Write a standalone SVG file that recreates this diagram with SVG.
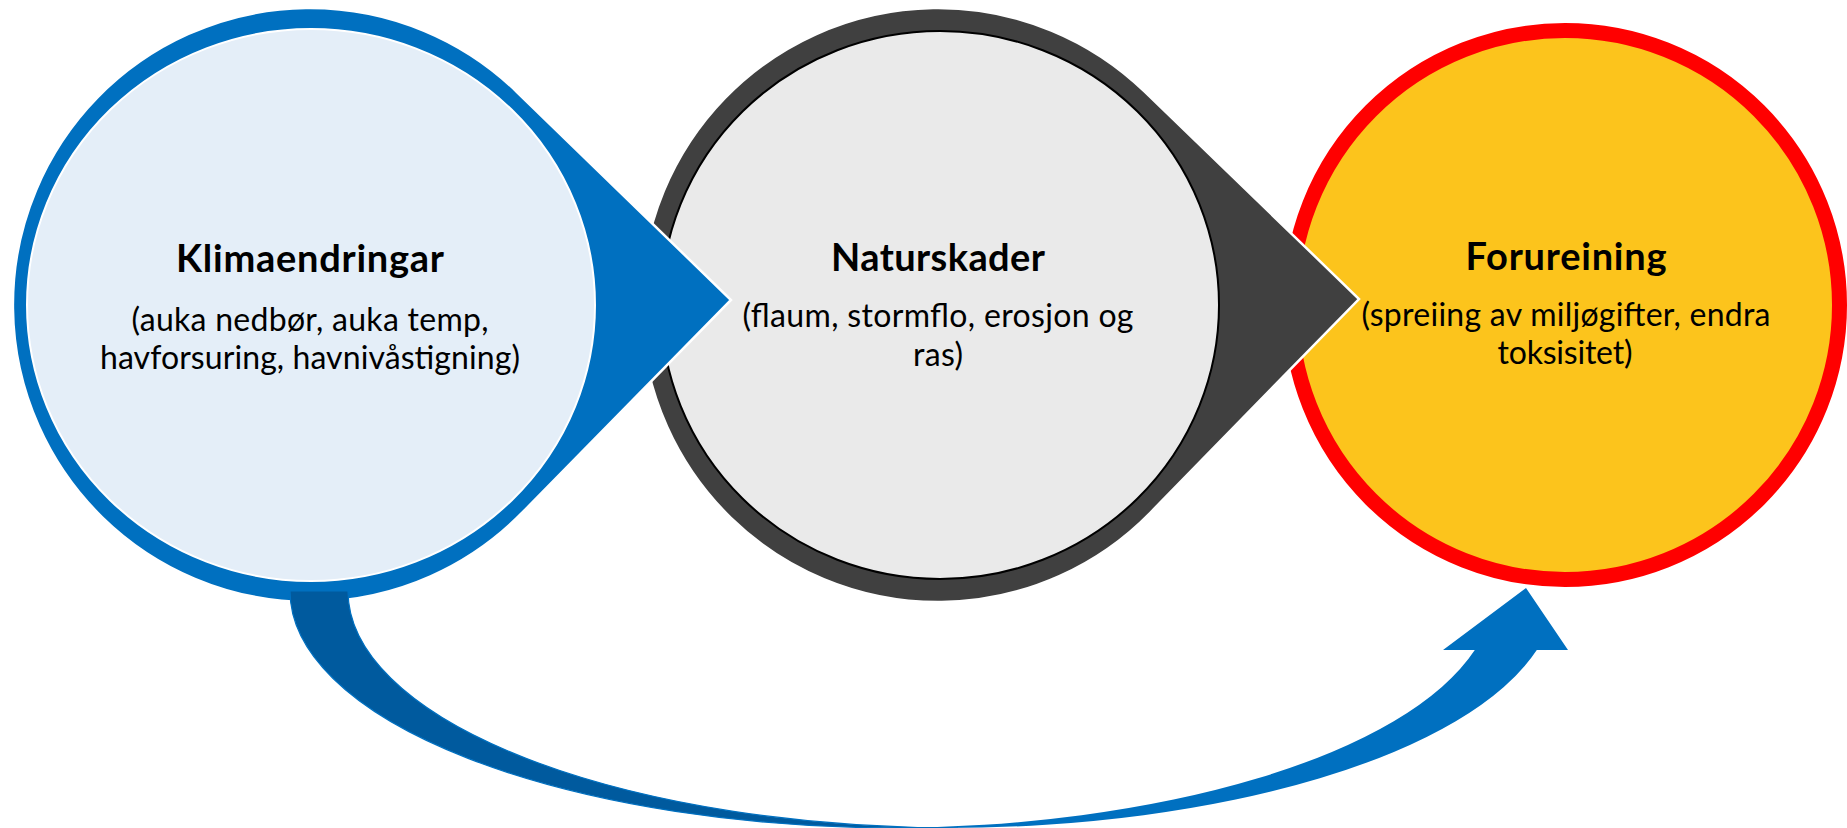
<svg xmlns="http://www.w3.org/2000/svg" width="1847" height="828" viewBox="0 0 1847 828">
<style>
.t{font-family:Lato,"Open Sans","Liberation Sans",sans-serif;font-weight:700;font-size:38px;fill:#000;text-anchor:middle}
.s{font-family:Lato,"Open Sans","Liberation Sans",sans-serif;font-weight:400;font-size:32px;fill:#000;text-anchor:middle}
.tear{stroke:#fff;stroke-width:2.5;stroke-linejoin:miter}
</style>
<rect width="1847" height="828" fill="#fff"/>
<g id="node-forureining">
 <circle cx="1565" cy="305" r="274.5" fill="#FCC41C" stroke="#FF0000" stroke-width="15"/>
 <text class="t" x="1566" y="270" textLength="201">Forureining</text>
 <text class="s" x="1566" y="326" textLength="409">(spreiing av miljøgifter, endra</text>
 <text class="s" x="1565" y="364" textLength="135">toksisitet)</text>
</g>
<g id="node-naturskader">
 <path class="tear" fill="#404040" d="M 1144.4 91.4 L 1359 299 L 1150.5 512.5 A 297 297 0 1 1 1144.4 91.4 Z"/>
 <ellipse cx="940" cy="305" rx="279" ry="274" fill="#EAEAEA" stroke="#000" stroke-width="2"/>
 <text class="t" x="938" y="271" textLength="214">Naturskader</text>
 <text class="s" x="938" y="327" textLength="391">(flaum, stormflo, erosjon og</text>
 <text class="s" x="938" y="366" textLength="50">ras)</text>
</g>
<g id="node-klimaendringar">
 <path class="tear" fill="#0070C0" d="M 516.9 92 L 731 300 L 521.9 513 A 297 297 0 1 1 516.9 92 Z"/>
 <ellipse cx="311" cy="305" rx="284" ry="276" fill="#E4EEF8" stroke="#fff" stroke-width="2"/>
 <text class="t" x="310" y="272" textLength="268">Klimaendringar</text>
 <text class="s" x="310" y="331" textLength="357">(auka nedbør, auka temp,</text>
 <text class="s" x="310" y="369" textLength="420">havforsuring, havnivåstigning)</text>
</g>
<g id="connectors">
 <path fill="#0070C0" d="M 884 828 A 610 237 0 0 0 1474.8 650 L 1443 650 L 1526 588 L 1568 650 L 1536.8 650 A 610 237 0 0 1 946 828 Z"/>
 <path fill="#005A9E" stroke="#0070C0" stroke-width="1.2" d="M 290 591 A 610 237 0 0 0 900 828 L 958 828 A 610 237 0 0 1 348 591 Z"/>
</g>
</svg>
